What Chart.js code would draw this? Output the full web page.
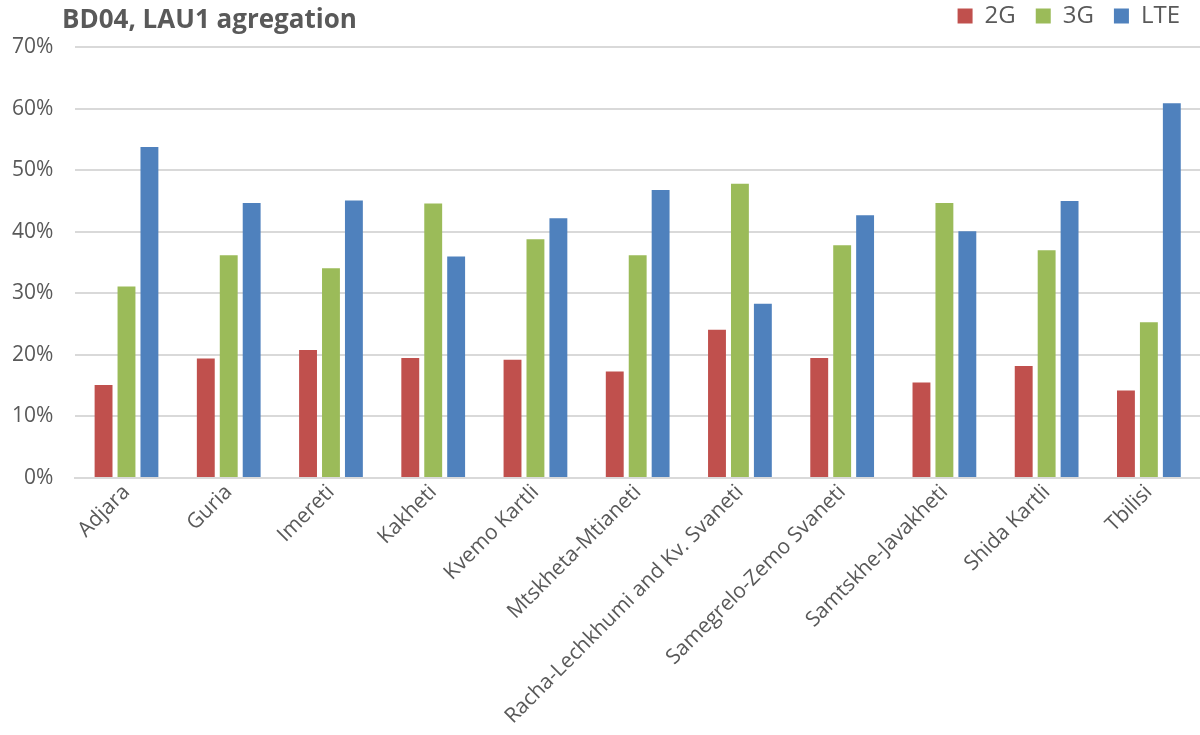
<!DOCTYPE html>
<html>
<head>
<meta charset="utf-8">
<script src="https://cdn.jsdelivr.net/npm/chart.js@4"></script>
<style>
  html, body { margin: 0; padding: 0; background: #fff; }
  #wrap { width: 1200px; height: 735px; }
</style>
</head>
<body>
<div id="wrap"><canvas id="bd04"></canvas></div>
<script>
const regions = ['Adjara', 'Guria', 'Imereti', 'Kakheti', 'Kvemo Kartli', 'Mtskheta-Mtianeti',
  'Racha-Lechkhumi and Kv. Svaneti', 'Samegrelo-Zemo Svaneti', 'Samtskhe-Javakheti', 'Shida Kartli', 'Tbilisi'];
const values2G = [15.1, 19.4, 20.8, 19.5, 19.2, 17.3, 24.1, 19.5, 15.5, 18.2, 14.2];
const values3G = [31.1, 36.2, 34.1, 44.6, 38.8, 36.2, 47.8, 37.8, 44.7, 37.0, 25.3];
const valuesLTE = [53.8, 44.7, 45.1, 36.0, 42.2, 46.8, 28.3, 42.7, 40.1, 45.0, 60.9];
const yTicks = [0, 10, 20, 30, 40, 50, 60, 70];

const grey = '#595959';

// title drawn top-left, legend stays on the same row
const titleLeft = {
  id: 'titleLeft',
  afterDraw(chart) {
    const c = chart.ctx;
    c.save();
    c.font = 'bold 26px "Open Sans"';
    c.fillStyle = grey;
    c.textBaseline = 'middle';
    c.fillText('BD04, LAU1 agregation', 62, 21);
    c.restore();
  }
};

const mkSet = (label, data, color) => ({
  label: label,
  data: data,
  backgroundColor: color,
  borderWidth: 0,
  barPercentage: 0.78,
  categoryPercentage: 0.673
});

new Chart(document.getElementById('bd04').getContext('2d'), {
  type: 'bar',
  data: {
    labels: regions,
    datasets: [
      mkSet('2G', values2G, '#C0504D'),
      mkSet('3G', values3G, '#9BBB59'),
      mkSet('LTE', valuesLTE, '#4F81BD')
    ]
  },
  options: {
    responsive: true,
    maintainAspectRatio: false,
    animation: false,
    // legend pulled up so it shares the title row
    layout: { padding: { top: -16, right: 0, left: -10, bottom: 4 } },
    plugins: {
      legend: {
        position: 'top',
        align: 'end',
        labels: {
          color: grey,
          font: { family: 'Open Sans', size: 24 },
          boxWidth: 15,
          boxHeight: 15,
          padding: 20
        }
      },
      title: { display: false },
      tooltip: { enabled: false }
    },
    scales: {
      x: {
        grid: { display: false, drawTicks: false },
        border: { display: true, color: '#d9d9d9', width: 2 },
        ticks: {
          color: grey,
          font: { family: 'Open Sans', size: 21 },
          maxRotation: 45,
          minRotation: 45,
          padding: 2
        }
      },
      y: {
        min: 0,
        max: 71.5,
        afterBuildTicks: (axis) => { axis.ticks = yTicks.map(v => ({ value: v })); },
        grid: { color: '#d9d9d9', lineWidth: 2, drawTicks: false },
        border: { display: false },
        ticks: {
          color: grey,
          font: { family: 'Open Sans', size: 21 },
          padding: 22,
          callback: (v) => v + '%'
        }
      }
    }
  },
  plugins: [titleLeft]
});
</script>
</body>
</html>
